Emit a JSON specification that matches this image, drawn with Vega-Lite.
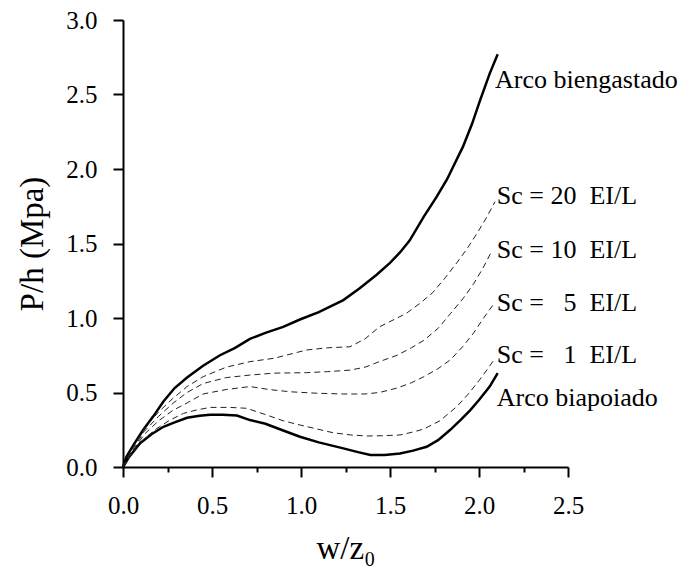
{
  "$schema": "https://vega.github.io/schema/vega-lite/v6.json",
  "width": 445,
  "height": 447,
  "autosize": "none",
  "padding": {"left": 123, "top": 20, "right": 128, "bottom": 112},
  "background": "white",
  "config": {
    "view": {"stroke": null},
    "axis": {
      "grid": false,
      "domainColor": "black",
      "domainWidth": 2,
      "tickColor": "black",
      "tickWidth": 2,
      "labelFlush": false,
      "labelFont": "Times New Roman, Liberation Serif, Times, serif",
      "labelFontSize": 25,
      "labelColor": "black",
      "titleFont": "Times New Roman, Liberation Serif, Times, serif",
      "titleFontSize": 33,
      "titleFontWeight": "normal",
      "titleColor": "black"
    }
  },
  "datasets": {
    "curves": [
      {"s": "biengastado", "x": 0, "y": 0}, {"s": "biengastado", "x": 0.02, "y": 0.07}, {"s": "biengastado", "x": 0.06, "y": 0.15}, {"s": "biengastado", "x": 0.114, "y": 0.25}, {"s": "biengastado", "x": 0.17, "y": 0.34}, {"s": "biengastado", "x": 0.227, "y": 0.44}, {"s": "biengastado", "x": 0.29, "y": 0.53}, {"s": "biengastado", "x": 0.36, "y": 0.6}, {"s": "biengastado", "x": 0.45, "y": 0.68}, {"s": "biengastado", "x": 0.545, "y": 0.75}, {"s": "biengastado", "x": 0.63, "y": 0.8}, {"s": "biengastado", "x": 0.713, "y": 0.86}, {"s": "biengastado", "x": 0.8, "y": 0.9}, {"s": "biengastado", "x": 0.9, "y": 0.94}, {"s": "biengastado", "x": 0.994, "y": 0.99}, {"s": "biengastado", "x": 1.1, "y": 1.04}, {"s": "biengastado", "x": 1.238, "y": 1.12}, {"s": "biengastado", "x": 1.33, "y": 1.2}, {"s": "biengastado", "x": 1.425, "y": 1.29}, {"s": "biengastado", "x": 1.5, "y": 1.37}, {"s": "biengastado", "x": 1.556, "y": 1.44}, {"s": "biengastado", "x": 1.61, "y": 1.52}, {"s": "biengastado", "x": 1.69, "y": 1.68}, {"s": "biengastado", "x": 1.76, "y": 1.81}, {"s": "biengastado", "x": 1.82, "y": 1.93}, {"s": "biengastado", "x": 1.91, "y": 2.15}, {"s": "biengastado", "x": 1.96, "y": 2.3}, {"s": "biengastado", "x": 2.006, "y": 2.46}, {"s": "biengastado", "x": 2.06, "y": 2.64}, {"s": "biengastado", "x": 2.105, "y": 2.77},
      {"s": "biapoiado", "x": 0, "y": 0}, {"s": "biapoiado", "x": 0.03, "y": 0.06}, {"s": "biapoiado", "x": 0.096, "y": 0.16}, {"s": "biapoiado", "x": 0.16, "y": 0.22}, {"s": "biapoiado", "x": 0.227, "y": 0.27}, {"s": "biapoiado", "x": 0.29, "y": 0.3}, {"s": "biapoiado", "x": 0.36, "y": 0.33}, {"s": "biapoiado", "x": 0.43, "y": 0.344}, {"s": "biapoiado", "x": 0.49, "y": 0.35}, {"s": "biapoiado", "x": 0.56, "y": 0.35}, {"s": "biapoiado", "x": 0.64, "y": 0.345}, {"s": "biapoiado", "x": 0.713, "y": 0.315}, {"s": "biapoiado", "x": 0.8, "y": 0.29}, {"s": "biapoiado", "x": 0.9, "y": 0.245}, {"s": "biapoiado", "x": 0.994, "y": 0.203}, {"s": "biapoiado", "x": 1.1, "y": 0.165}, {"s": "biapoiado", "x": 1.238, "y": 0.125}, {"s": "biapoiado", "x": 1.32, "y": 0.1}, {"s": "biapoiado", "x": 1.39, "y": 0.08}, {"s": "biapoiado", "x": 1.47, "y": 0.08}, {"s": "biapoiado", "x": 1.556, "y": 0.09}, {"s": "biapoiado", "x": 1.63, "y": 0.11}, {"s": "biapoiado", "x": 1.706, "y": 0.136}, {"s": "biapoiado", "x": 1.77, "y": 0.18}, {"s": "biapoiado", "x": 1.837, "y": 0.248}, {"s": "biapoiado", "x": 1.9, "y": 0.32}, {"s": "biapoiado", "x": 1.95, "y": 0.38}, {"s": "biapoiado", "x": 2.0, "y": 0.45}, {"s": "biapoiado", "x": 2.06, "y": 0.54}, {"s": "biapoiado", "x": 2.105, "y": 0.63},
      {"s": "sc1", "x": 0, "y": 0}, {"s": "sc1", "x": 0.05, "y": 0.09}, {"s": "sc1", "x": 0.12, "y": 0.19}, {"s": "sc1", "x": 0.18, "y": 0.25}, {"s": "sc1", "x": 0.264, "y": 0.315}, {"s": "sc1", "x": 0.34, "y": 0.36}, {"s": "sc1", "x": 0.414, "y": 0.383}, {"s": "sc1", "x": 0.49, "y": 0.4}, {"s": "sc1", "x": 0.6, "y": 0.4}, {"s": "sc1", "x": 0.695, "y": 0.394}, {"s": "sc1", "x": 0.807, "y": 0.349}, {"s": "sc1", "x": 0.9, "y": 0.31}, {"s": "sc1", "x": 0.994, "y": 0.282}, {"s": "sc1", "x": 1.09, "y": 0.255}, {"s": "sc1", "x": 1.18, "y": 0.23}, {"s": "sc1", "x": 1.28, "y": 0.215}, {"s": "sc1", "x": 1.37, "y": 0.208}, {"s": "sc1", "x": 1.46, "y": 0.21}, {"s": "sc1", "x": 1.556, "y": 0.215}, {"s": "sc1", "x": 1.63, "y": 0.235}, {"s": "sc1", "x": 1.69, "y": 0.255}, {"s": "sc1", "x": 1.78, "y": 0.31}, {"s": "sc1", "x": 1.875, "y": 0.405}, {"s": "sc1", "x": 1.94, "y": 0.49}, {"s": "sc1", "x": 2.0, "y": 0.58}, {"s": "sc1", "x": 2.05, "y": 0.66}, {"s": "sc1", "x": 2.09, "y": 0.73},
      {"s": "sc5", "x": 0, "y": 0}, {"s": "sc5", "x": 0.05, "y": 0.1}, {"s": "sc5", "x": 0.12, "y": 0.22}, {"s": "sc5", "x": 0.2, "y": 0.31}, {"s": "sc5", "x": 0.28, "y": 0.38}, {"s": "sc5", "x": 0.36, "y": 0.43}, {"s": "sc5", "x": 0.45, "y": 0.49}, {"s": "sc5", "x": 0.58, "y": 0.52}, {"s": "sc5", "x": 0.713, "y": 0.54}, {"s": "sc5", "x": 0.82, "y": 0.52}, {"s": "sc5", "x": 0.938, "y": 0.505}, {"s": "sc5", "x": 1.09, "y": 0.495}, {"s": "sc5", "x": 1.238, "y": 0.49}, {"s": "sc5", "x": 1.36, "y": 0.49}, {"s": "sc5", "x": 1.44, "y": 0.5}, {"s": "sc5", "x": 1.54, "y": 0.53}, {"s": "sc5", "x": 1.62, "y": 0.565}, {"s": "sc5", "x": 1.69, "y": 0.606}, {"s": "sc5", "x": 1.77, "y": 0.66}, {"s": "sc5", "x": 1.84, "y": 0.72}, {"s": "sc5", "x": 1.91, "y": 0.81}, {"s": "sc5", "x": 1.97, "y": 0.9}, {"s": "sc5", "x": 2.02, "y": 0.99}, {"s": "sc5", "x": 2.08, "y": 1.09},
      {"s": "sc10", "x": 0, "y": 0}, {"s": "sc10", "x": 0.05, "y": 0.11}, {"s": "sc10", "x": 0.12, "y": 0.24}, {"s": "sc10", "x": 0.2, "y": 0.34}, {"s": "sc10", "x": 0.28, "y": 0.427}, {"s": "sc10", "x": 0.36, "y": 0.5}, {"s": "sc10", "x": 0.45, "y": 0.56}, {"s": "sc10", "x": 0.58, "y": 0.6}, {"s": "sc10", "x": 0.713, "y": 0.617}, {"s": "sc10", "x": 0.85, "y": 0.63}, {"s": "sc10", "x": 1.03, "y": 0.633}, {"s": "sc10", "x": 1.15, "y": 0.64}, {"s": "sc10", "x": 1.275, "y": 0.65}, {"s": "sc10", "x": 1.36, "y": 0.67}, {"s": "sc10", "x": 1.44, "y": 0.707}, {"s": "sc10", "x": 1.54, "y": 0.75}, {"s": "sc10", "x": 1.62, "y": 0.8}, {"s": "sc10", "x": 1.69, "y": 0.85}, {"s": "sc10", "x": 1.77, "y": 0.93}, {"s": "sc10", "x": 1.84, "y": 1.03}, {"s": "sc10", "x": 1.91, "y": 1.13}, {"s": "sc10", "x": 1.97, "y": 1.23}, {"s": "sc10", "x": 2.02, "y": 1.33}, {"s": "sc10", "x": 2.07, "y": 1.445},
      {"s": "sc20", "x": 0, "y": 0}, {"s": "sc20", "x": 0.05, "y": 0.12}, {"s": "sc20", "x": 0.12, "y": 0.26}, {"s": "sc20", "x": 0.2, "y": 0.37}, {"s": "sc20", "x": 0.28, "y": 0.46}, {"s": "sc20", "x": 0.36, "y": 0.54}, {"s": "sc20", "x": 0.45, "y": 0.606}, {"s": "sc20", "x": 0.58, "y": 0.67}, {"s": "sc20", "x": 0.713, "y": 0.707}, {"s": "sc20", "x": 0.85, "y": 0.73}, {"s": "sc20", "x": 1.03, "y": 0.785}, {"s": "sc20", "x": 1.15, "y": 0.8}, {"s": "sc20", "x": 1.275, "y": 0.807}, {"s": "sc20", "x": 1.36, "y": 0.86}, {"s": "sc20", "x": 1.44, "y": 0.94}, {"s": "sc20", "x": 1.59, "y": 1.03}, {"s": "sc20", "x": 1.67, "y": 1.1}, {"s": "sc20", "x": 1.74, "y": 1.17}, {"s": "sc20", "x": 1.81, "y": 1.27}, {"s": "sc20", "x": 1.875, "y": 1.37}, {"s": "sc20", "x": 1.93, "y": 1.46}, {"s": "sc20", "x": 1.99, "y": 1.57}, {"s": "sc20", "x": 2.04, "y": 1.67}, {"s": "sc20", "x": 2.09, "y": 1.78}
    ],
    "labels": [
      {"x": 2.09, "y": 2.6, "t": "Arco biengastado"},
      {"x": 2.1, "y": 1.82, "t": "Sc = 20\u00a0\u00a0EI/L"},
      {"x": 2.1, "y": 1.456, "t": "Sc = 10\u00a0\u00a0EI/L"},
      {"x": 2.1, "y": 1.1, "t": "Sc =\u00a0\u00a0\u00a05\u00a0\u00a0EI/L"},
      {"x": 2.1, "y": 0.75, "t": "Sc =\u00a0\u00a0\u00a01\u00a0\u00a0EI/L"},
      {"x": 2.1, "y": 0.46, "t": "Arco biapoiado"}
    ]
  },
  "layer": [
    {
      "data": {"name": "curves"},
      "transform": [{"filter": "datum.s === 'biengastado' || datum.s === 'biapoiado'"}],
      "mark": {"type": "line", "color": "black", "strokeWidth": 2.5, "clip": false},
      "encoding": {
        "x": {
          "field": "x", "type": "quantitative",
          "scale": {"domain": [0, 2.5], "nice": false},
          "axis": {
            "title": "w/z\u2080",
            "values": [0, 0.25, 0.5, 0.75, 1, 1.25, 1.5, 1.75, 2, 2.25, 2.5],
            "labelExpr": "abs(datum.value*2 - round(datum.value*2)) < 0.001 ? format(datum.value, '.1f') : ''",
            "tickSize": {"condition": {"test": "abs(datum.value*2 - round(datum.value*2)) < 0.001", "value": 10}, "value": 5},
            "labelPadding": 16,
            "titlePadding": 14
          }
        },
        "y": {
          "field": "y", "type": "quantitative",
          "scale": {"domain": [0, 3], "nice": false},
          "axis": {
            "title": "P/h (Mpa)",
            "values": [0, 0.25, 0.5, 0.75, 1, 1.25, 1.5, 1.75, 2, 2.25, 2.5, 2.75, 3],
            "labelExpr": "abs(datum.value*2 - round(datum.value*2)) < 0.001 ? format(datum.value, '.1f') : ''",
            "tickSize": {"condition": {"test": "abs(datum.value*2 - round(datum.value*2)) < 0.001", "value": 10}, "value": 5},
            "labelPadding": 16,
            "titlePadding": 16
          }
        },
        "detail": {"field": "s"}
      }
    },
    {
      "data": {"name": "curves"},
      "transform": [{"filter": "datum.s !== 'biengastado' && datum.s !== 'biapoiado'"}],
      "mark": {"type": "line", "color": "#222222", "strokeWidth": 1, "strokeDash": [6, 4], "clip": false},
      "encoding": {
        "x": {"field": "x", "type": "quantitative"},
        "y": {"field": "y", "type": "quantitative"},
        "detail": {"field": "s"}
      }
    },
    {
      "data": {"name": "labels"},
      "mark": {"type": "text", "align": "left", "baseline": "middle", "font": "Times New Roman, Liberation Serif, Times, serif", "fontSize": 26, "color": "black", "clip": false},
      "encoding": {
        "x": {"field": "x", "type": "quantitative"},
        "y": {"field": "y", "type": "quantitative"},
        "text": {"field": "t"}
      }
    }
  ]
}
